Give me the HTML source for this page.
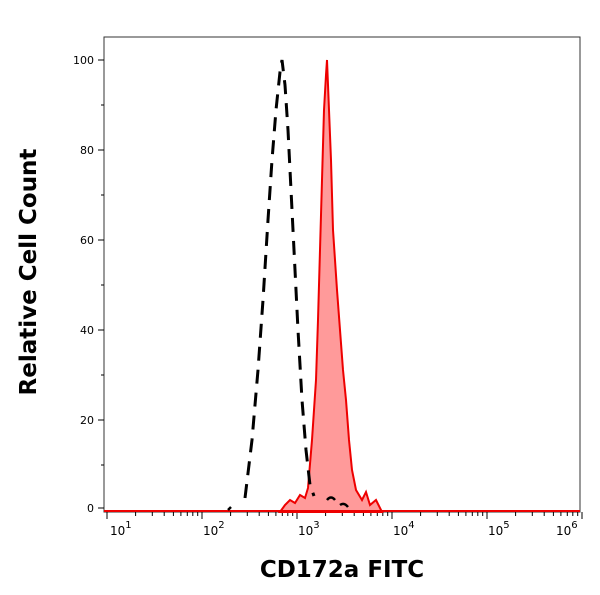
<!DOCTYPE html>
<html><head><style>body{margin:0;background:#fff}svg{display:block}</style></head><body>
<svg width="600" height="595" xmlns="http://www.w3.org/2000/svg" font-family="DejaVu Sans, sans-serif">
<defs>
<g id="dec" stroke="#000" stroke-width="1">
<line x1="0" y1="512" x2="0" y2="519"/>
<line x1="28.6" y1="512" x2="28.6" y2="516"/><line x1="45.3" y1="512" x2="45.3" y2="516"/>
<line x1="57.2" y1="512" x2="57.2" y2="516"/><line x1="66.4" y1="512" x2="66.4" y2="516"/>
<line x1="73.9" y1="512" x2="73.9" y2="516"/><line x1="80.3" y1="512" x2="80.3" y2="516"/>
<line x1="85.8" y1="512" x2="85.8" y2="516"/><line x1="90.7" y1="512" x2="90.7" y2="516"/>
</g>
</defs>
<rect x="104" y="37" width="476" height="475" fill="none" stroke="#333" stroke-width="1"/>
<g font-size="11" fill="#000" text-anchor="end">
<text x="94" y="64">100</text><text x="94" y="154">80</text><text x="94" y="244">60</text>
<text x="94" y="334">40</text><text x="94" y="424">20</text><text x="94" y="512">0</text>
</g>
<g stroke="#000" stroke-width="1">
<line x1="98" y1="60" x2="104" y2="60"/><line x1="98" y1="150" x2="104" y2="150"/><line x1="98" y1="240" x2="104" y2="240"/>
<line x1="98" y1="330" x2="104" y2="330"/><line x1="98" y1="420" x2="104" y2="420"/><line x1="98" y1="508" x2="104" y2="508"/>
<line x1="101" y1="105" x2="104" y2="105"/><line x1="101" y1="195" x2="104" y2="195"/><line x1="101" y1="285" x2="104" y2="285"/><line x1="101" y1="375" x2="104" y2="375"/><line x1="101" y1="465" x2="104" y2="465"/>
<line x1="582" y1="512" x2="582" y2="519"/>
</g>
<use href="#dec" x="107"/><use href="#dec" x="202"/><use href="#dec" x="297"/><use href="#dec" x="392"/><use href="#dec" x="487"/>
<g font-size="12" fill="#000">
<text x="110" y="535">10<tspan dy="-7" font-size="10">1</tspan></text>
<text x="203" y="535">10<tspan dy="-7" font-size="10">2</tspan></text>
<text x="298" y="535">10<tspan dy="-7" font-size="10">3</tspan></text>
<text x="393" y="535">10<tspan dy="-7" font-size="10">4</tspan></text>
<text x="488" y="535">10<tspan dy="-7" font-size="10">5</tspan></text>
<text x="556" y="535">10<tspan dy="-7" font-size="10">6</tspan></text>
</g>
<path d="M280,512 L285,505 L290,500 L295,503 L300,495 L305,498 L308,488 L312,440 L316,380 L318,320 L320,250 L322,180 L324,110 L326,75 L327,60 L329,110 L331,160 L333,230 L337,290 L340,330 L343,370 L346,400 L349,440 L352,470 L356,490 L362,500 L366,492 L370,505 L376,500 L382,512 Z" fill="#ff9a9a" stroke="#e00" stroke-width="2"/>
<line x1="104" y1="511" x2="580" y2="511" stroke="#e00" stroke-width="2"/>
<path d="M245,498 L252,440 L258,370 L263,300 L268,220 L272,160 L276,110 L280,72 L282,60 L285,85 L288,130 L291,190 L294,250 L298,330 L302,400 L306,450 L310,485 L314,496" fill="none" stroke="#000" stroke-width="3" stroke-dasharray="14,9"/>
<path d="M327,500 q4,-5 8,0 M340,505 q4,-3 8,2 M228,510 l3,-3" stroke="#000" stroke-width="2.5" fill="none"/>
<text transform="translate(36,272) rotate(-90)" text-anchor="middle" font-size="23" font-weight="bold">Relative Cell Count</text>
<text x="342" y="577" text-anchor="middle" font-size="23" font-weight="bold">CD172a FITC</text>
</svg>
</body></html>
